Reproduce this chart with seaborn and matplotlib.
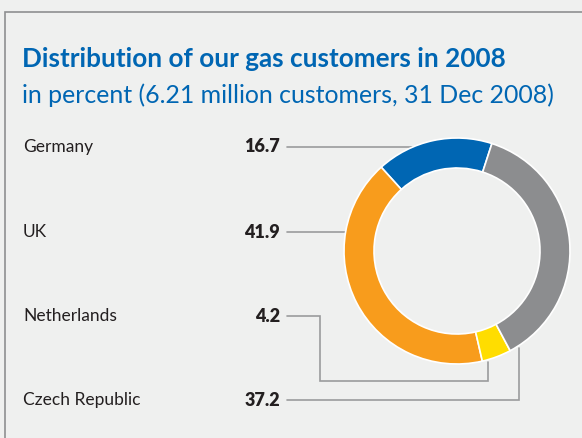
import matplotlib
matplotlib.use("Agg")
import matplotlib.pyplot as plt
import seaborn as sns
from matplotlib.patches import Rectangle

# data
countries = ["Germany", "UK", "Netherlands", "Czech Republic"]
shares = [16.7, 41.9, 4.2, 37.2]
share_labels = ["16.7", "41.9", "4.2", "37.2"]
colors = ["#0066B3", "#F89C1C", "#FFDD00", "#8C8D8F"]

TITLE = "Distribution of our gas customers in 2008"
SUBTITLE = "in percent (6.21 million customers, 31 Dec 2008)"

sns.set_theme(style="white")
plt.rcParams['font.family'] = ['Lato', 'DejaVu Sans']

W, H = 582, 438
BG = "#EFF0EF"
BLUE = "#0066B3"
LINE = "#9A9B9D"
TXT = "#231F20"

fig = plt.figure(figsize=(W / 100, H / 100), dpi=100, facecolor=BG)
ax = fig.add_axes([0, 0, 1, 1])
ax.set_facecolor(BG)

# donut (pixel coords, y measured from top)
cx, cy, r = 457, 251, 113
ax.pie(shares, colors=colors, startangle=72, counterclock=True,
       center=(cx, H - cy), radius=r,
       wedgeprops=dict(width=30, edgecolor="white", linewidth=1.2))

ax.set_xlim(0, W)
ax.set_ylim(0, H)
ax.set_aspect("equal")
ax.axis("off")

# frame
ax.add_patch(Rectangle((4.5, -5), W, H - 12 + 5, fill=False,
                       edgecolor="#8E8F91", linewidth=1.2))

# title, scaled to the width it has in the original
renderer = fig.canvas.get_renderer()


def fit(t, width):
    fs = t.get_fontsize()
    w = t.get_window_extent(renderer).width
    t.set_fontsize(fs * width / w)


t1 = ax.text(22, H - 67, TITLE, color=BLUE, fontsize=16, fontweight="bold",
             ha="left", va="baseline")
t2 = ax.text(22, H - 103, SUBTITLE, color=BLUE, fontsize=16,
             ha="left", va="baseline")
fit(t1, 485)
fit(t2, 534)

# labels
rows = [147, 232, 316, 400]
for name, lab, y in zip(countries, share_labels, rows):
    ax.text(23, H - y, name, color=TXT, fontsize=12.5,
            ha="left", va="center")
    ax.text(280, H - y, lab, color=TXT, fontsize=13,
            fontweight="heavy", ha="right", va="center")

# leader lines
leaders = [
    [(287, 147), (412, 147)],
    [(287, 232), (346, 232)],
    [(287, 316), (320, 316), (320, 381), (488, 381), (488, 362)],
    [(287, 400), (519, 400), (519, 348)],
]
for pts in leaders:
    xs = [p[0] for p in pts]
    ys = [H - p[1] for p in pts]
    ax.plot(xs, ys, color=LINE, linewidth=1.2, zorder=0.5,
            solid_joinstyle="miter")

fig.savefig("out.png", dpi=100, facecolor=BG)
